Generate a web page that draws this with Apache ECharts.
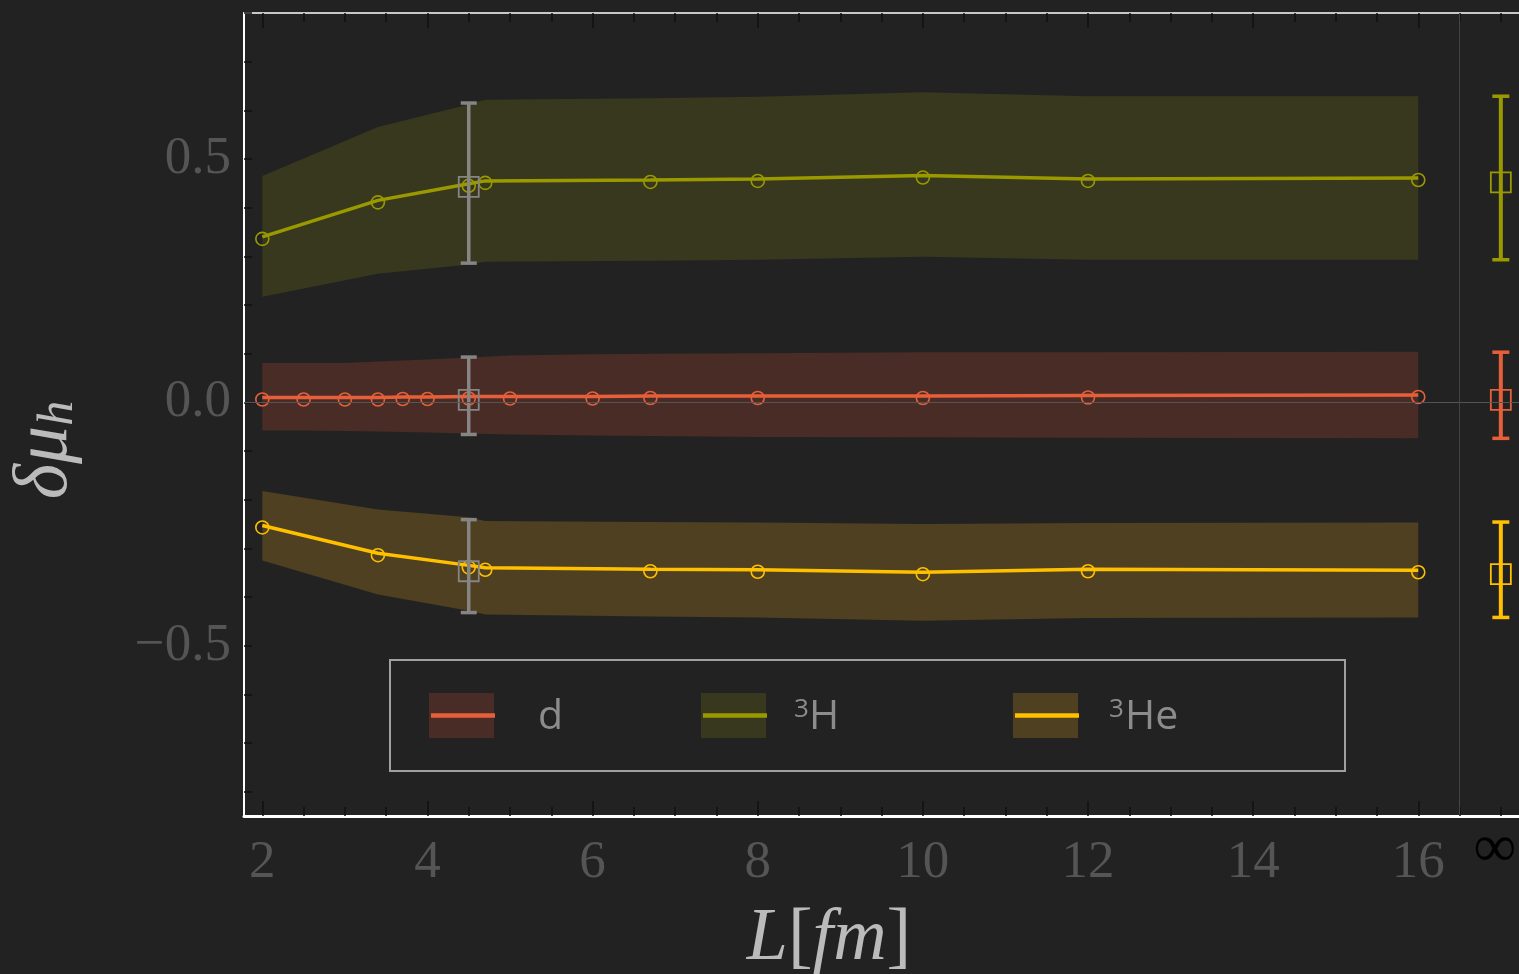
<!DOCTYPE html>
<html><head><meta charset="utf-8">
<script src="https://cdn.jsdelivr.net/npm/echarts@6/dist/echarts.min.js"></script>
<style>html,body{margin:0;padding:0;background:#222222;}#c{width:1519px;height:974px;}</style>
</head><body><div id="c"></div>
<script>
// ---------- data ----------
const dX  = [2, 2.5, 3, 3.4, 3.7, 4, 4.5, 5, 6, 6.7, 8, 10, 12, 16];
const dY  = [0.010, 0.010, 0.010, 0.010, 0.011, 0.011, 0.012, 0.012, 0.012, 0.013, 0.013, 0.013, 0.014, 0.015];
const dHi = [0.081, 0.081, 0.081, 0.084, 0.086, 0.088, 0.092, 0.096, 0.099, 0.100, 0.101, 0.103, 0.103, 0.104];
const dLo = [-0.058, -0.058, -0.059, -0.060, -0.061, -0.062, -0.064, -0.066, -0.068, -0.069, -0.071, -0.072, -0.073, -0.074];

const tX  = [2, 3.4, 4.5, 4.7, 6.7, 8, 10, 12, 16];
const hY  = [0.340, 0.415, 0.449, 0.455, 0.457, 0.459, 0.466, 0.459, 0.461];
const hHi = [0.465, 0.566, 0.612, 0.622, 0.625, 0.628, 0.637, 0.629, 0.629];
const hLo = [0.217, 0.264, 0.283, 0.289, 0.291, 0.293, 0.299, 0.293, 0.293];

const heY  = [-0.253, -0.310, -0.335, -0.340, -0.343, -0.344, -0.349, -0.343, -0.345];
const heHi = [-0.182, -0.220, -0.236, -0.244, -0.246, -0.247, -0.250, -0.248, -0.247];
const heLo = [-0.325, -0.395, -0.428, -0.436, -0.440, -0.442, -0.449, -0.443, -0.442];

// reference points at L = 4.5 (grey) : order 3H, d, 3He
const refX  = 4.5;
const refC  = [0.447, 0.009, -0.343];
const refLo = [0.286, -0.066, -0.432];
const refHi = [0.615, 0.093, -0.241];

// infinite-volume extrapolations (drawn at the "∞" position)
const infX  = 17;
const infC  = [0.456, 0.009, -0.349];
const infLo = [0.293, -0.074, -0.442];
const infHi = [0.629, 0.103, -0.246];

const xLabelVals  = [2, 4, 6, 8, 10, 12, 14, 16];
const xMajorTicks = [2, 4, 6, 8, 10, 12, 14, 16];
const xMinorTicks = [2, 2.5, 3, 3.5, 4, 4.5, 5, 5.5, 6, 6.5, 7, 7.5, 8, 8.5, 9, 9.5, 10, 10.5, 11, 11.5, 12, 12.5, 13, 13.5, 14, 14.5, 15, 15.5, 16, 16.5, 17];
const yTicks      = [-0.8, -0.7, -0.6, -0.5, -0.4, -0.3, -0.2, -0.1, 0, 0.1, 0.2, 0.3, 0.4, 0.5, 0.6, 0.7, 0.8];
const yLabelVals  = [-0.5, 0, 0.5];
const yLabelText  = {'-0.5': '\u22120.5', '0': '0.0', '0.5': '0.5'};
const seriesNames = ['d', '3H', '3He'];

// ---------- styles ----------
const C_D = '#e5603a', C_H = '#9a9a00', C_HE = '#ffc000';
const B_D = '#4a2c26', B_H = '#38381e', B_HE = '#4e4020';
const GREY = '#858585';
const SERIF = "'Liberation Serif', 'DejaVu Serif', serif";
const SANS = "'Open Sans', 'Noto Sans', sans-serif";

const chart = echarts.init(document.getElementById('c'));

function bandSeries(xs, lo, hi, fill) {
  return {
    type: 'custom', silent: true, z: 1,
    data: xs.map((x, i) => [x, lo[i], hi[i]]),
    encode: {x: 0, y: [1, 2]},
    renderItem: function (params, api) {
      if (params.dataIndex !== 0) return {type: 'group', children: []};
      const pts = [];
      for (let i = 0; i < xs.length; i++) pts.push(api.coord([xs[i], hi[i]]));
      for (let i = xs.length - 1; i >= 0; i--) pts.push(api.coord([xs[i], lo[i]]));
      return {type: 'polygon', shape: {points: pts}, style: {fill: fill}};
    }
  };
}

function lineSeries(name, xs, ys, color) {
  return {
    name: name, type: 'line', z: 3, silent: true,
    data: xs.map((x, i) => [x, ys[i]]),
    symbol: 'circle', symbolSize: 13, symbolOffset: [0, 2],
    lineStyle: {color: color, width: 3.5},
    itemStyle: {color: 'rgba(0,0,0,0)', borderColor: color, borderWidth: 1.6},
    showAllSymbol: true
  };
}

function errSeries(xs, cs, los, his, colors, z, barW, capW, sq) {
  return {
    type: 'custom', silent: true, z: z,
    data: cs.map((c, i) => [xs, c, los[i], his[i], i]),
    encode: {x: 0, y: [1, 2, 3]},
    renderItem: function (params, api) {
      const x = api.value(0);
      const col = colors[api.value(4)];
      const pc = api.coord([x, api.value(1)]);
      const pl = api.coord([x, api.value(2)]);
      const ph = api.coord([x, api.value(3)]);
      return {type: 'group', children: [
        {type: 'line', shape: {x1: pl[0], y1: pl[1], x2: ph[0], y2: ph[1]}, style: {stroke: col, lineWidth: barW}},
        {type: 'line', shape: {x1: ph[0] - capW / 2, y1: ph[1], x2: ph[0] + capW / 2, y2: ph[1]}, style: {stroke: col, lineWidth: 3.5}},
        {type: 'line', shape: {x1: pl[0] - capW / 2, y1: pl[1], x2: pl[0] + capW / 2, y2: pl[1]}, style: {stroke: col, lineWidth: 3.5}},
        {type: 'rect', shape: {x: pc[0] - sq / 2, y: pc[1] + 2 - sq / 2, width: sq, height: sq}, style: {fill: null, stroke: col, lineWidth: 1.8}}
      ]};
    }
  };
}

const xCommon = {type: 'value', min: 1.778, max: 17.22, splitLine: {show: false}, gridIndex: 0};

const option = {
  backgroundColor: '#222222',
  animation: false,
  grid: {left: 244, right: 0, top: 13, bottom: 158, show: false, containLabel: false, outerBoundsMode: 'none'},
  xAxis: [
    Object.assign({}, xCommon, {position: 'bottom',
      axisLine: {show: true, onZero: false, lineStyle: {color: '#ffffff', width: 3}},
      axisTick: {show: true, inside: true, length: 15, customValues: xMajorTicks, lineStyle: {color: '#111', width: 1.5}},
      axisLabel: {show: true, customValues: xLabelVals, margin: 21, color: '#555555', fontFamily: SERIF, fontSize: 53,
        formatter: v => String(v)}}),
    Object.assign({}, xCommon, {position: 'bottom',
      axisLine: {show: false, onZero: false},
      axisTick: {show: true, inside: true, length: 9, customValues: xMinorTicks, lineStyle: {color: '#111', width: 1.5}},
      axisLabel: {show: true, customValues: [infX], margin: 4, color: '#000000', fontFamily: SERIF, fontSize: 60,
        padding: [0, 12, 0, 0], formatter: () => '\u221e'}}),
    Object.assign({}, xCommon, {position: 'top',
      axisLine: {show: true, onZero: false, lineStyle: {color: '#ffffff', width: 1.5}},
      axisTick: {show: true, inside: true, length: 15, customValues: xMajorTicks, lineStyle: {color: '#111', width: 1.5}},
      axisLabel: {show: false}}),
    Object.assign({}, xCommon, {position: 'top',
      axisLine: {show: false, onZero: false},
      axisTick: {show: true, inside: true, length: 9, customValues: xMinorTicks, lineStyle: {color: '#111', width: 1.5}},
      axisLabel: {show: false}})
  ],
  yAxis: [{
    type: 'value', min: -0.85, max: 0.8, position: 'left', splitLine: {show: false},
    axisLine: {show: true, onZero: false, lineStyle: {color: '#ffffff', width: 2}},
    axisTick: {show: true, inside: true, length: 8, customValues: yTicks, lineStyle: {color: '#111', width: 1.5}},
    axisLabel: {show: true, customValues: yLabelVals, margin: 13, color: '#555555', fontFamily: SERIF, fontSize: 53,
      formatter: v => yLabelText[String(Math.round(v * 10) / 10)]}
  }],
  series: [
    bandSeries(dX, dLo, dHi, B_D),
    bandSeries(tX, hLo, hHi, B_H),
    bandSeries(tX, heLo, heHi, B_HE),
    {
      type: 'line', data: [], z: 2, silent: true,
      markLine: {silent: true, symbol: 'none', label: {show: false},
        data: [
          {yAxis: 0, lineStyle: {color: '#555555', width: 1, type: 'solid'}},
          {xAxis: 16.5, lineStyle: {color: '#444444', width: 1, type: 'solid'}}
        ]}
    },
    lineSeries(seriesNames[0], dX, dY, C_D),
    lineSeries(seriesNames[1], tX, hY, C_H),
    lineSeries(seriesNames[2], tX, heY, C_HE),
    errSeries(refX, refC, refLo, refHi, [GREY, GREY, GREY], 4, 3.5, 16, 20),
    errSeries(infX, infC, infLo, infHi, [C_H, C_D, C_HE], 4, 4, 17, 20)
  ],
  graphic: [
    // axis titles
    {type: 'text', x: 829, y: 940, z: 10, style: {
      text: '{i|L}{n|[}{i|fm}{n|]}', align: 'center', verticalAlign: 'middle', fill: '#bbbbbb',
      rich: {i: {fontFamily: SERIF, fontStyle: 'italic', fontSize: 74, fill: '#bbbbbb'},
             n: {fontFamily: SERIF, fontSize: 74, fill: '#bbbbbb'}}}},
    {type: 'text', x: 46, y: 450, rotation: Math.PI / 2, z: 10, style: {
      text: '{a|\u03b4\u03bc}{b|h}', align: 'center', verticalAlign: 'middle', fill: '#bbbbbb',
      rich: {a: {fontFamily: SERIF, fontStyle: 'italic', fontSize: 76, fill: '#bbbbbb'},
             b: {fontFamily: SERIF, fontStyle: 'italic', fontSize: 50, fill: '#bbbbbb', verticalAlign: 'bottom', padding: [22, 0, 0, 0]}}}},
    // legend
    {type: 'rect', shape: {x: 390, y: 660, width: 955, height: 111}, style: {fill: null, stroke: '#a0a0a0', lineWidth: 2}, z: 10},
    {type: 'rect', shape: {x: 429, y: 693, width: 65, height: 45}, style: {fill: B_D}, z: 10},
    {type: 'line', shape: {x1: 431, y1: 715.5, x2: 495, y2: 715.5}, style: {stroke: C_D, lineWidth: 4.5}, z: 11},
    {type: 'text', x: 538, y: 717, z: 11, style: {text: seriesNames[0], fontFamily: SANS, fontSize: 41, fill: '#8c8c8c', verticalAlign: 'middle'}},
    {type: 'rect', shape: {x: 701, y: 693, width: 65, height: 45}, style: {fill: B_H}, z: 10},
    {type: 'line', shape: {x1: 703, y1: 715.5, x2: 767, y2: 715.5}, style: {stroke: C_H, lineWidth: 4.5}, z: 11},
    {type: 'text', x: 794, y: 710, z: 11, style: {text: '3', fontFamily: SANS, fontSize: 26, fill: '#8c8c8c', verticalAlign: 'middle'}},
    {type: 'text', x: 809, y: 717, z: 11, style: {text: 'H', fontFamily: SANS, fontSize: 41, fill: '#8c8c8c', verticalAlign: 'middle'}},
    {type: 'rect', shape: {x: 1013, y: 693, width: 65, height: 45}, style: {fill: B_HE}, z: 10},
    {type: 'line', shape: {x1: 1015, y1: 715.5, x2: 1079, y2: 715.5}, style: {stroke: C_HE, lineWidth: 4.5}, z: 11},
    {type: 'text', x: 1109, y: 710, z: 11, style: {text: '3', fontFamily: SANS, fontSize: 26, fill: '#8c8c8c', verticalAlign: 'middle'}},
    {type: 'text', x: 1125, y: 717, z: 11, style: {text: 'He', fontFamily: SANS, fontSize: 41, fill: '#8c8c8c', verticalAlign: 'middle'}}
  ]
};
chart.setOption(option);
</script>
</body></html>
